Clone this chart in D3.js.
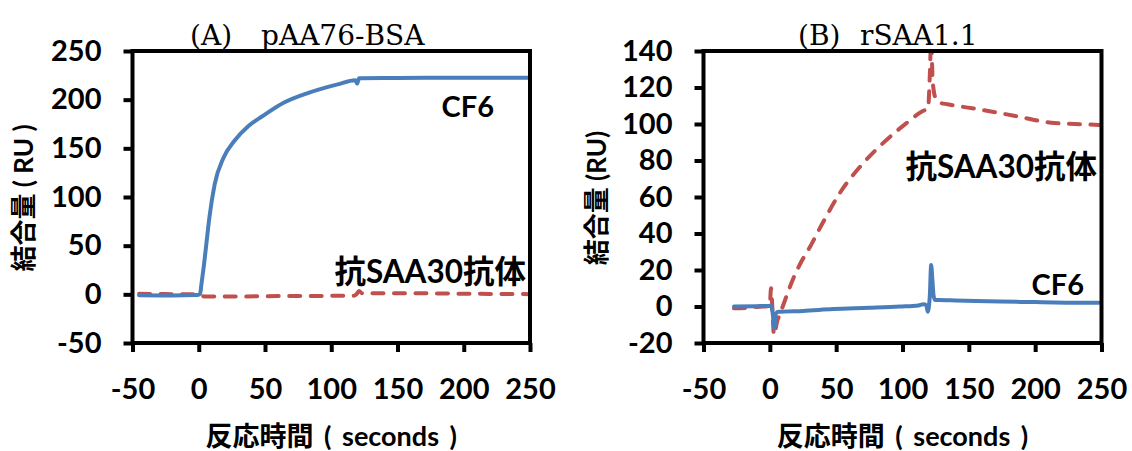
<!DOCTYPE html>
<html>
<head>
<meta charset="utf-8">
<script src="https://cdn.jsdelivr.net/npm/d3@7/dist/d3.min.js"></script>
<style>
  html, body { margin: 0; padding: 0; background: #fff; }
  svg { display: block; }
  .tick line { stroke: #000; stroke-width: 4; }
  .tick text { font-family: Lato, "Noto Sans CJK JP", sans-serif; font-weight: 700; font-size: 29px; fill: #000; }
  .frame { fill: none; stroke: #000; stroke-width: 4; }
  .bold { font-family: Lato, "Noto Sans CJK JP", sans-serif; font-weight: 700; fill: #000; }
  .title { font-family: "DejaVu Serif", serif; font-size: 28px; fill: #000; }
  .series { fill: none; stroke-width: 4; stroke-linejoin: round; stroke-linecap: round; }
</style>
</head>
<body>
<svg id="chart" width="1132" height="451"></svg>
<script>
// ── Data ───────────────────────────────────────────────────────────────────

const xTicks  = [-50, 0, 50, 100, 150, 200, 250];
const yTicksA = [-50, 0, 50, 100, 150, 200, 250];
const yTicksB = [-20, 0, 20, 40, 60, 80, 100, 120, 140];

// (A) pAA76-BSA — CF6
const timeA_cf6 = [-45, -20, -1, 1, 2, 4, 6, 8, 12, 18.7, 26.8, 37.5, 48.3, 64.4, 83.3, 104.8, 118.2, 119.5, 121, 123, 150, 200, 250];
const ruA_cf6   = [-1, -1.2, -0.8, 0.5, 10, 31, 55, 78.7, 113, 140.4, 157.5, 173, 183.2, 197, 207.2, 215.7, 219.9, 216.5, 222, 222, 222.3, 222.5, 222.6];

// (A) pAA76-BSA — 抗SAA30抗体
const timeA_ab = [-45, -20, -1, 2, 5, 30, 60, 90, 117, 119, 121, 123, 150, 200, 250];
const ruA_ab   = [0.5, 0.2, 0.2, -1.5, -2.3, -2.2, -1.8, -1.6, -1.5, 0, 3.4, 1.2, 1.2, 0.6, 0.2];

// (B) rSAA1.1 — CF6
const timeB_cf6 = [-27, -10, -1, 0.8, 2.2, 3.4, 4.4, 6.4, 25, 47.8, 75, 98.1, 112, 115.7, 118, 119, 120.6, 121.6, 122.5, 123.4, 124.5, 127, 140, 173.5, 200, 223.8, 248];
const ruB_cf6   = [0, 0.2, 0.3, 0.4, -4, -12, -4, -2.9, -2.4, -1.4, -0.7, 0, 0.6, 1.2, 0.6, -2.9, 6, 22.7, 15, 6, 3.5, 3.5, 3.3, 2.7, 2.4, 2.1, 2.0];

// (B) rSAA1.1 — 抗SAA30抗体
const timeB_ab = [-27, -15, -5, -1, 0, 0.9, 2, 3.1, 4.2, 5.2, 8, 11.7, 17.2, 23.3, 29, 40, 53.5, 69.6, 85.7, 101.8, 115.3, 119.3, 120.5, 121.6, 122.6, 124, 125.5, 128, 134, 158, 185, 212, 230, 248];
const ruB_ab   = [-1, -0.6, 0, 0, 1, 10, -2, -15.6, -13, -9.2, -3.5, 4, 14.5, 24, 31, 46, 63, 77.9, 89.8, 99.8, 107.1, 108.5, 125, 146, 126, 116.3, 113.5, 111.7, 110.8, 108, 104.4, 100.7, 100, 99.5];

// ── Panels ─────────────────────────────────────────────────────────────────

const BLUE = '#4a7ebb';
const RED  = '#c0504d';

const panels = [
  {
    id: 'A', left: 132.5, right: 530, top: 51, bottom: 343,
    yDomain: [-50, 250], yTicks: yTicksA,
    head: '(A)', headX: 190, name: 'pAA76-BSA', nameX: 261,
    yTitle: '結合量 ( RU )', yTitleX: 24,
    series: [
      { t: timeA_ab,  v: ruA_ab,  color: RED,  dash: '11,10.5' },
      { t: timeA_cf6, v: ruA_cf6, color: BLUE, dash: null }
    ],
    labels: [
      { text: 'CF6',          x: 494, y: 117, size: 29 },
      { text: '抗SAA30抗体', x: 526, y: 283, size: 31.5 }
    ]
  },
  {
    id: 'B', left: 703.5, right: 1101.5, top: 51, bottom: 343,
    yDomain: [-20, 140], yTicks: yTicksB,
    head: '(B)', headX: 798, name: 'rSAA1.1', nameX: 860,
    yTitle: '結合量 (RU)', yTitleX: 597,
    series: [
      { t: timeB_ab,  v: ruB_ab,  color: RED,  dash: '11,10.5' },
      { t: timeB_cf6, v: ruB_cf6, color: BLUE, dash: null }
    ],
    labels: [
      { text: '抗SAA30抗体', x: 1097, y: 178, size: 31.5 },
      { text: 'CF6',          x: 1084, y: 295, size: 29 }
    ]
  }
];

// ── Render ─────────────────────────────────────────────────────────────────

const svg = d3.select('#chart');
const fmt = d => String(d);   // plain hyphen minus, as in the original

panels.forEach(p => {
  const x = d3.scaleLinear().domain([-50, 250]).range([p.left, p.right]);
  const y = d3.scaleLinear().domain(p.yDomain).range([p.bottom, p.top]);
  const g = svg.append('g').attr('class', `panel panel-${p.id}`);

  // clip to plot box
  const clipId = `clip-${p.id}`;
  svg.append('clipPath').attr('id', clipId)
    .append('rect')
    .attr('x', p.left).attr('y', p.top)
    .attr('width', p.right - p.left).attr('height', p.bottom - p.top);

  // axes (ticks point outward, frame drawn separately)
  g.append('g')
    .attr('transform', `translate(0,${p.bottom})`)
    .call(d3.axisBottom(x).tickValues(xTicks).tickFormat(fmt)
      .tickSize(9).tickSizeOuter(0).tickPadding(26))
    .call(a => a.select('.domain').remove());

  g.append('g')
    .attr('transform', `translate(${p.left},0)`)
    .call(d3.axisLeft(y).tickValues(p.yTicks).tickFormat(fmt)
      .tickSize(9).tickSizeOuter(0).tickPadding(22))
    .call(a => a.select('.domain').remove());

  // series
  const line = d3.line()
    .x(d => x(d[0]))
    .y(d => y(d[1]))
    .curve(d3.curveMonotoneX);

  const lines = g.append('g').attr('clip-path', `url(#${clipId})`);
  p.series.forEach(s => {
    lines.append('path')
      .attr('class', 'series')
      .attr('d', line(d3.zip(s.t, s.v)))
      .attr('stroke', s.color)
      .attr('stroke-dasharray', s.dash);
  });

  // frame
  g.append('rect').attr('class', 'frame')
    .attr('x', p.left).attr('y', p.top)
    .attr('width', p.right - p.left).attr('height', p.bottom - p.top);

  // series labels
  p.labels.forEach(l => {
    g.append('text').attr('class', 'bold')
      .attr('x', l.x).attr('y', l.y)
      .attr('text-anchor', 'end')
      .style('font-size', l.size + 'px')
      .text(l.text);
  });

  // panel title
  const title = g.append('text').attr('class', 'title').attr('y', 45);
  title.append('tspan').attr('x', p.headX).text(p.head);
  title.append('tspan').attr('x', p.nameX).text(p.name);

  // axis titles
  g.append('text').attr('class', 'bold')
    .attr('x', (p.left + p.right) / 2).attr('y', 446)
    .attr('text-anchor', 'middle')
    .style('font-size', '27px')
    .style('word-spacing', '4px')
    .text('反応時間 ( seconds )');

  g.append('text').attr('class', 'bold')
    .attr('transform', `translate(${p.yTitleX},198) rotate(-90)`)
    .attr('text-anchor', 'middle')
    .attr('dy', '0.35em')
    .style('font-size', '26px')
    .text(p.yTitle);
});
</script>
</body>
</html>
